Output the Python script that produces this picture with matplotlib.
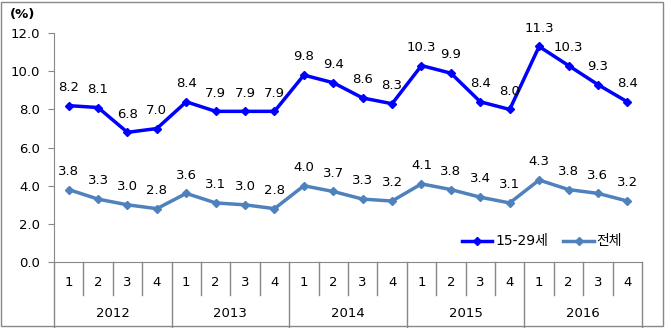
import matplotlib

matplotlib.use("Agg")
import matplotlib.pyplot as plt
from matplotlib.patches import Rectangle

plt.rcParams["font.family"] = ["DejaVu Sans", "Noto Sans CJK KR"]

years = ["2012", "2013", "2014", "2015", "2016"]
quarters = ["1", "2", "3", "4"]
youth = [8.2, 8.1, 6.8, 7.0, 8.4, 7.9, 7.9, 7.9, 9.8, 9.4,
         8.6, 8.3, 10.3, 9.9, 8.4, 8.0, 11.3, 10.3, 9.3, 8.4]
total = [3.8, 3.3, 3.0, 2.8, 3.6, 3.1, 3.0, 2.8, 4.0, 3.7,
         3.3, 3.2, 4.1, 3.8, 3.4, 3.1, 4.3, 3.8, 3.6, 3.2]

c_youth = "#0000FF"
c_total = "#4F81BD"
grey = "#888888"
fs = 9.5

fig = plt.figure(figsize=(6.66, 3.28), dpi=100)
ax = fig.add_axes([0.081, 0.201, 0.883, 0.698])

n = len(youth)
xs = list(range(n))
ax.plot(xs, youth, color=c_youth, lw=2.5, marker="D", ms=4.5, label="15-29세")
ax.plot(xs, total, color=c_total, lw=2.5, marker="D", ms=4.5, label="전체")

for x, v in zip(xs, youth):
    ax.annotate(f"{v:.1f}", (x, v), xytext=(0, 8.5), textcoords="offset points",
                ha="center", va="bottom", fontsize=fs)
for x, v in zip(xs, total):
    ax.annotate(f"{v:.1f}", (x, v), xytext=(0, 8.5), textcoords="offset points",
                ha="center", va="bottom", fontsize=fs)

ax.set_xlim(-0.5, n - 0.5)
ax.set_ylim(0, 12)
ax.set_yticks([0, 2, 4, 6, 8, 10, 12])
ax.set_yticklabels([f"{t:.1f}" for t in [0, 2, 4, 6, 8, 10, 12]], fontsize=fs)
ax.tick_params(axis="y", length=4, color=grey, pad=6)
ax.set_xticks([])

for s in ["top", "right"]:
    ax.spines[s].set_visible(False)
ax.spines["left"].set_color(grey)
ax.spines["bottom"].set_color(grey)

# two-level category axis: quarters then years, with separators below the axis
trans = ax.get_xaxis_transform()
for i in range(n + 1):
    x = i - 0.5
    depth = -0.29 if i % 4 == 0 else -0.145
    ax.plot([x, x], [0, depth], transform=trans, color=grey, lw=1, clip_on=False)
for i in range(n):
    ax.text(i, -0.09, quarters[i % 4], transform=trans, ha="center", va="center",
            fontsize=fs)
for j, yr in enumerate(years):
    ax.text(j * 4 + 1.5, -0.225, yr, transform=trans, ha="center", va="center",
            fontsize=fs)

fig.text(0.015, 0.955, "(%)", ha="left", va="center", fontsize=fs,
         fontweight="bold")

ax.legend(loc="center", bbox_to_anchor=(0.83, 0.09), ncol=2, frameon=False,
          fontsize=10, handlelength=2.2, handletextpad=0.2, columnspacing=1.1)

fig.patches.append(Rectangle((0.002, 0.005), 0.994, 0.99, transform=fig.transFigure,
                             fill=False, edgecolor=grey, lw=1))

fig.savefig("out.png", dpi=100)
